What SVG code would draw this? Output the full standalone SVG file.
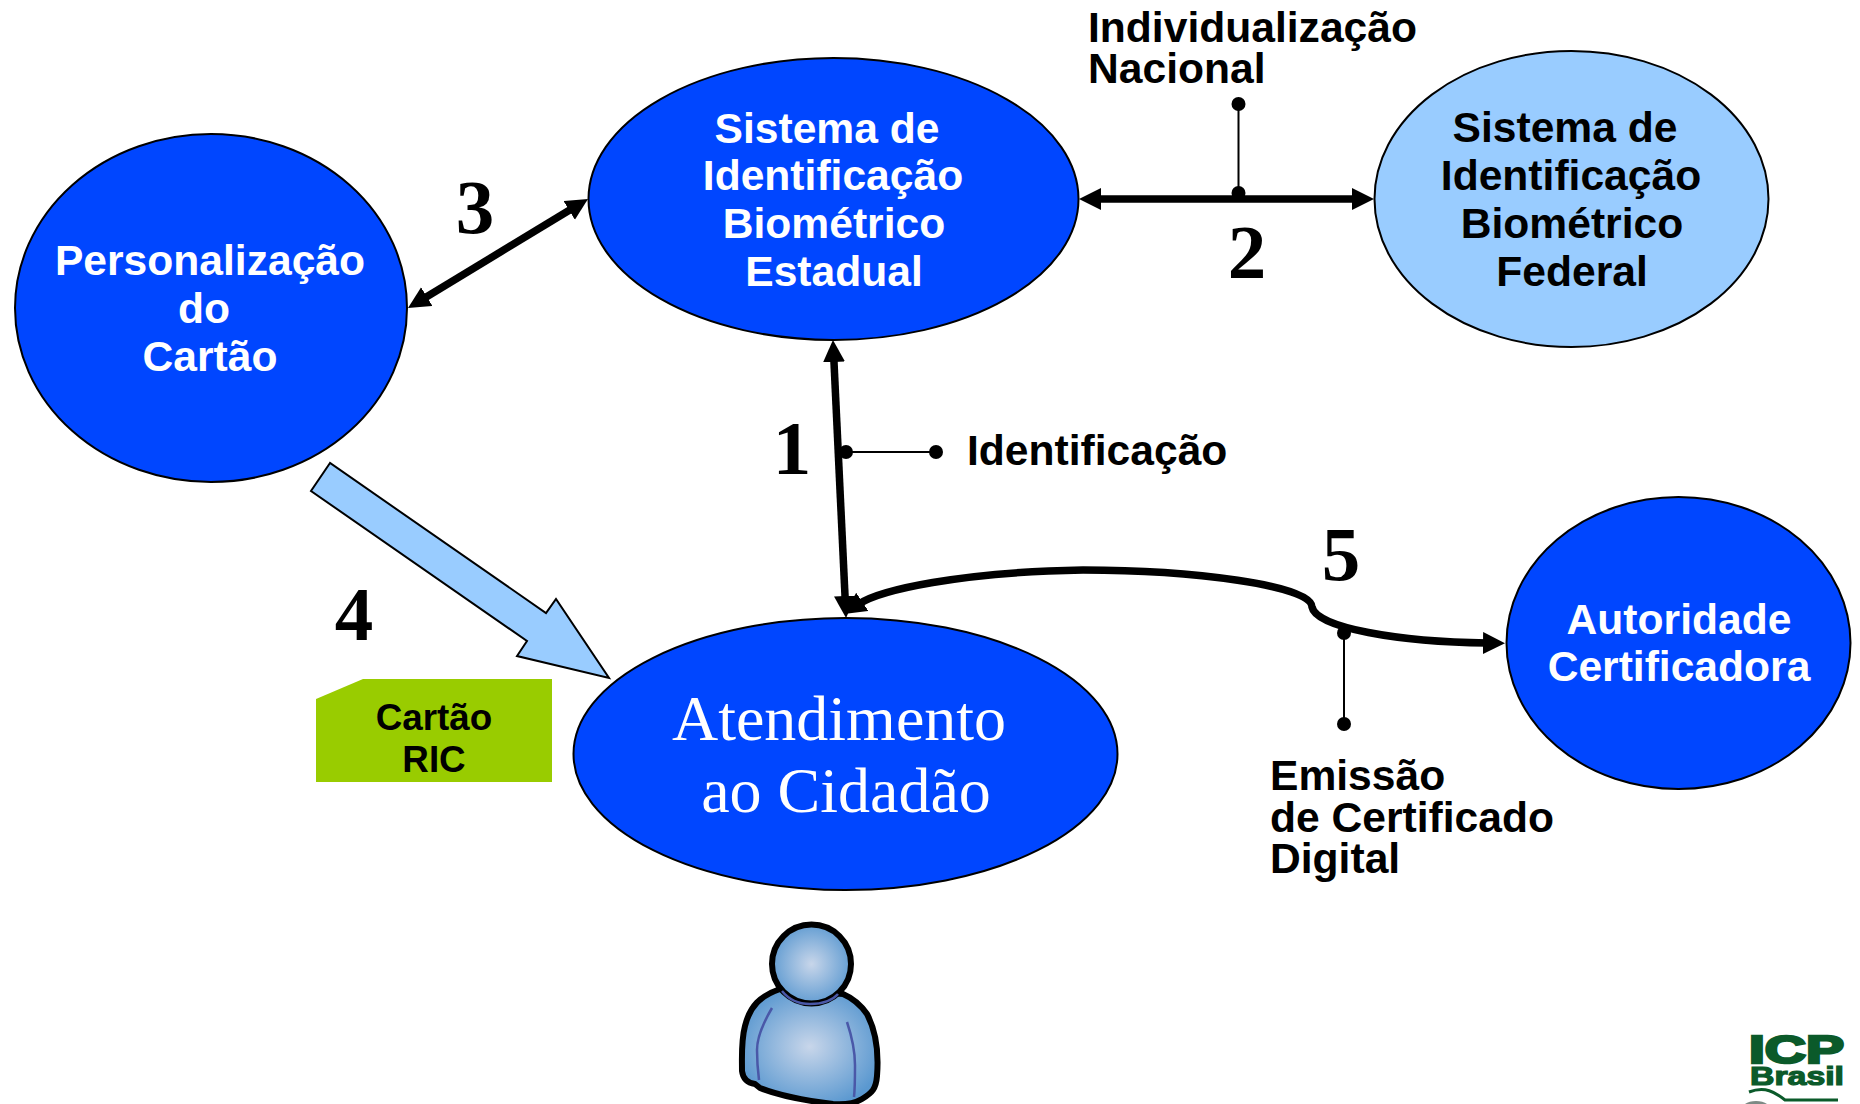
<svg xmlns="http://www.w3.org/2000/svg" width="1860" height="1104" viewBox="0 0 1860 1104">
<style>
.n{fill:#0046ff;stroke:#000;stroke-width:2}
.f{fill:#99ccff;stroke:#000;stroke-width:2}
.t{font-family:"Liberation Sans",Arial,sans-serif;font-weight:700;font-size:42.6px;text-anchor:middle}
.c{font-size:36.800px}
.w{fill:#fff}
.k{fill:#000}
.s{font-family:"Liberation Serif","Times New Roman",serif;font-size:64px;text-anchor:middle;fill:#fff}
.d{font-family:"Liberation Serif","Times New Roman",serif;font-weight:700;font-size:77px;text-anchor:middle;fill:#000}
.a{fill:none;stroke:#000;stroke-width:7.500}
.l{fill:none;stroke:#000;stroke-width:2}
.l2{font-family:"Liberation Sans",Arial,sans-serif;font-weight:700;font-size:42.6px;fill:#000}
</style>
<defs>
<marker id="h" markerUnits="userSpaceOnUse" markerWidth="24" markerHeight="24" refX="4" refY="11" orient="auto-start-reverse"><path d="M0 0L22 11L0 22Z" fill="#000"/></marker>
<radialGradient id="g" cx="50%" cy="50%" r="55%"><stop offset="0" stop-color="#c8d6ea"/><stop offset="1" stop-color="#5a98d0"/></radialGradient>
</defs>
<g id="connectors">
<path class="a" d="M423.400 298.700L572.600 208.300" marker-start="url(#h)" marker-end="url(#h)"/>
<path class="a" d="M1097 199H1356" marker-start="url(#h)" marker-end="url(#h)"/>
<path class="a" d="M833.800 358L845.200 600" marker-start="url(#h)" marker-end="url(#h)"/>
<path class="a" d="M859 604C880 590 960 572 1083 570C1190 570 1312 585 1312 607C1316 628 1400 642 1487 643" marker-start="url(#h)" marker-end="url(#h)"/>
<path class="l" d="M1238.500 104V193M846 452H936M1344 633V724"/>
<g fill="#000"><circle cx="1238.500" cy="104" r="7"/><circle cx="1238.500" cy="193" r="7"/><circle cx="846" cy="452" r="7"/><circle cx="936" cy="452" r="7"/><circle cx="1344" cy="633" r="7"/><circle cx="1344" cy="724" r="7"/></g>
</g>
<g id="personalizacao"><ellipse class="n" cx="211" cy="308" rx="196" ry="174"/>
<text class="t w" x="210" y="275">Personalização</text><text class="t w" x="204" y="323">do</text><text class="t w" x="210" y="371">Cartão</text></g>
<g id="estadual"><ellipse class="n" cx="833.500" cy="199" rx="245" ry="141"/>
<text class="t w" x="827" y="143">Sistema de</text><text class="t w" x="833" y="190">Identificação</text><text class="t w" x="834" y="238">Biométrico</text><text class="t w" x="834" y="286">Estadual</text></g>
<g id="federal"><ellipse class="f" cx="1571.500" cy="199" rx="197" ry="148"/>
<text class="t k" x="1565" y="142">Sistema de</text><text class="t k" x="1571" y="190">Identificação</text><text class="t k" x="1572" y="238">Biométrico</text><text class="t k" x="1572" y="286">Federal</text></g>
<g id="atendimento"><ellipse class="n" cx="845.500" cy="754" rx="272" ry="136"/>
<text class="s" x="839" y="740">Atendimento</text><text class="s" x="846" y="812">ao Cidadão</text></g>
<g id="autoridade"><ellipse class="n" cx="1678.500" cy="643" rx="172" ry="146"/>
<text class="t w" x="1679" y="634">Autoridade</text><text class="t w" x="1679" y="681">Certificadora</text></g>
<g id="seta4"><path class="f" d="M330 463L311 491L527 641L517 656L609 678L556 599L546 613Z"/></g>
<g id="cartao"><path d="M316 699L363 679H552V782H316Z" fill="#99cc00"/>
<text class="t k c" x="434" y="730">Cartão</text><text class="t k c" x="434" y="772">RIC</text></g>
<g id="labels">
<text class="l2" x="1088" y="42">Individualização</text><text class="l2" x="1088" y="83">Nacional</text>
<text class="l2" x="967" y="465">Identificação</text>
<text class="l2" x="1270" y="790">Emissão</text><text class="l2" x="1270" y="832">de Certificado</text><text class="l2" x="1270" y="873">Digital</text>
<text class="d" x="475" y="233">3</text><text class="d" x="1247" y="278">2</text><text class="d" x="792" y="474">1</text><text class="d" x="354" y="640">4</text><text class="d" x="1341" y="580">5</text>
</g>
<g id="pessoa">
<path d="M780 989C760 996 750 1006 745 1026C741 1041 742 1056 742 1071C743 1079 748 1083 755 1084L760 1088C775 1094 800 1100 833 1104C845 1105 855 1103 862 1099C872 1093 876 1089 877 1076C879 1051 876 1031 867 1014C860 1004 850 997 843 994Z" fill="url(#g)" stroke="#000" stroke-width="6"/>
<circle cx="811.500" cy="964" r="39.500" fill="url(#g)" stroke="#000" stroke-width="6"/>
<path d="M782 991C790 1001 800 1004 810 1004C822 1004 832 1001 838 994M772 1008C762 1025 757 1040 757 1050C757 1062 758 1072 759 1080M847 1022C852 1037 855 1050 855 1065C855 1078 855 1088 854 1097" fill="none" stroke="#4a58a8" stroke-width="2.500"/>
</g>
<g id="logo" fill="#0b5a2a" font-family="'Liberation Sans',Arial,sans-serif" font-weight="700">
<text x="1749" y="1063" font-size="39" textLength="95" lengthAdjust="spacingAndGlyphs" stroke="#0b5a2a" stroke-width="2.500">ICP</text>
<text x="1750" y="1085" font-size="25" textLength="94" lengthAdjust="spacingAndGlyphs" stroke="#0b5a2a" stroke-width="1.200">Brasil</text>
<path d="M1749 1092C1765 1086 1775 1092 1785 1100H1838" fill="none" stroke="#0b5a2a" stroke-width="3"/>
<path d="M1745 1104C1750 1100 1762 1100 1767 1104Z" fill="#7d8a85"/>
</g>
</svg>
